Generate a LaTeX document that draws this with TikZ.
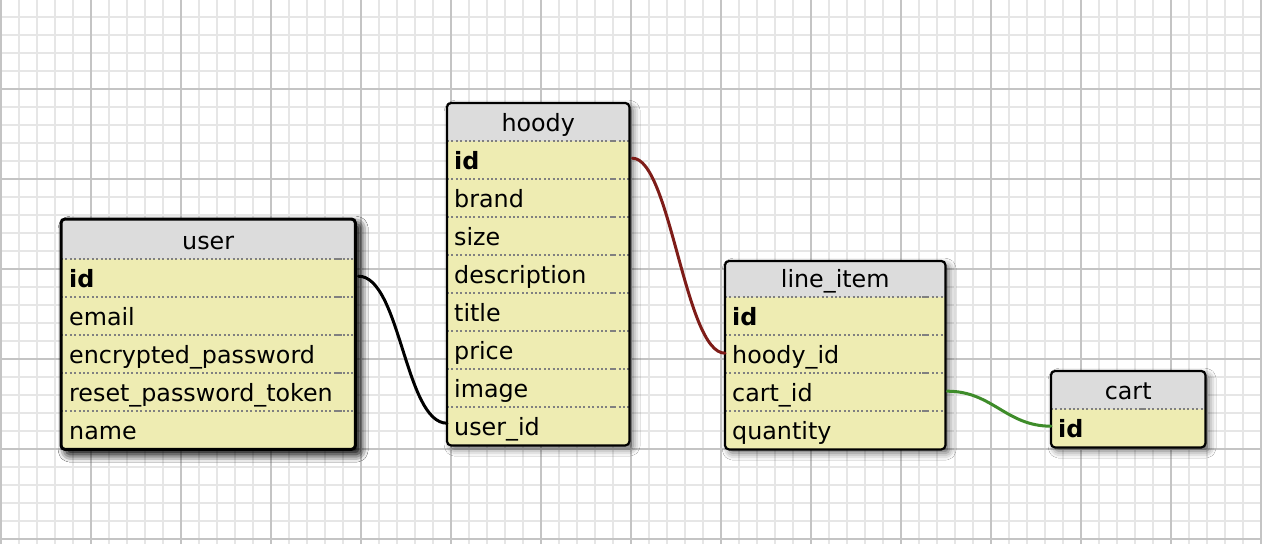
\documentclass[tikz,border=0pt]{standalone}
\usepackage{fontspec}
\setmainfont{DejaVu Sans}
\usetikzlibrary{shadows.blur}
\definecolor{gridminor}{HTML}{E6E6E6}
\definecolor{gridmajor}{HTML}{C4C4C4}
\definecolor{headgray}{HTML}{DCDCDC}
\definecolor{rowyellow}{HTML}{EEECB2}
\definecolor{sepgray}{HTML}{808080}
\definecolor{linkred}{HTML}{7E1C18}
\definecolor{linkgreen}{HTML}{3E8C2A}
\tikzset{
  tablebg/.style={anchor=north west, fill=rowyellow, inner sep=0pt, rounded corners=4pt,
    blur shadow={shadow xshift=4pt, shadow yshift=-4pt, shadow blur radius=7pt, shadow opacity=60}},
  tableborder/.style={draw=black, line width=2.2pt, rounded corners=4pt},
  cell/.style={anchor=north west, inner xsep=7pt, inner ysep=0pt, text depth=10pt,
    align=left, font=\fontsize{23.8}{26}\selectfont},
  headcell/.style={cell, align=center},
  sepline/.style={draw=sepgray, line width=2pt, dash pattern=on 2pt off 2.4pt},
  sepdash/.style={draw=sepgray, line width=2pt},
  link/.style={line width=3pt, line cap=round},
  gminor/.style={draw=gridminor, line width=2pt},
  gmajor/.style={draw=gridmajor, line width=2pt},
}
\begin{document}
\begin{tikzpicture}[x=1pt, y=-1pt]
\useasboundingbox (0,0) rectangle (1262,544);
\fill[white] (0,0) rectangle (1262,544);
\begin{scope}
\clip (0,0) rectangle (1262,544);
\foreach \i in {0,...,70} \draw[gminor] ({1+18*\i},0) -- ({1+18*\i},544);
\foreach \j in {0,...,31} \draw[gminor] (0,{-1+18*\j}) -- (1262,{-1+18*\j});
\foreach \i in {0,...,14} \draw[gmajor] ({1+90*\i},0) -- ({1+90*\i},544);
\foreach \j in {1,...,6} \draw[gmajor] (0,{-1+90*\j}) -- (1262,{-1+90*\j});
\end{scope}

% ---------- user ----------
\node[tablebg, minimum width=294pt, minimum height=230pt,
  blur shadow={shadow xshift=5pt, shadow yshift=-5pt, shadow blur radius=8pt, shadow opacity=70}] (user) at (61,219) {};
\fill[headgray] (61,259) [rounded corners=4pt] -- (61,219) -- (355,219) [sharp corners] -- (355,259) -- cycle;
\node[headcell, inner xsep=8pt, text width=278pt, text height=30pt] (user-h) at (61,219) {user};
\node[cell, inner xsep=8pt, text width=278pt, text height=28pt] (user-id) at (61,259) {\textbf{id}};
\node[cell, inner xsep=8pt, text width=278pt, text height=28pt] (user-email) at (61,297) {email};
\node[cell, inner xsep=8pt, text width=278pt, text height=28pt] (user-pw) at (61,335) {encrypted\_password};
\node[cell, inner xsep=8pt, text width=278pt, text height=28pt] (user-tok) at (61,373) {reset\_password\_token};
\node[cell, inner xsep=8pt, text width=278pt, text height=28pt] (user-name) at (61,411) {name};
\foreach \r in {user-id, user-email, user-pw, user-tok, user-name} {
  \draw[sepline] (\r.north west) -- (\r.north east);
  \draw[sepdash] ([xshift=-20pt]\r.north east) -- ([xshift=-13pt]\r.north east);
}
\draw[tableborder, line width=3pt] (user.north west) rectangle (user.south east);

% ---------- hoody ----------
\node[tablebg, minimum width=182pt, minimum height=342pt] (hoody) at (447,103) {};
\fill[headgray] (447,141) [rounded corners=4pt] -- (447,103) -- (629,103) [sharp corners] -- (629,141) -- cycle;
\node[headcell, text width=168pt, text height=28pt] (hoody-h) at (447,103) {hoody};
\node[cell, text width=168pt, text height=28pt] (hoody-id) at (447,141) {\textbf{id}};
\node[cell, text width=168pt, text height=28pt] (hoody-brand) at (447,179) {brand};
\node[cell, text width=168pt, text height=28pt] (hoody-size) at (447,217) {size};
\node[cell, text width=168pt, text height=28pt] (hoody-desc) at (447,255) {description};
\node[cell, text width=168pt, text height=28pt] (hoody-title) at (447,293) {title};
\node[cell, text width=168pt, text height=28pt] (hoody-price) at (447,331) {price};
\node[cell, text width=168pt, text height=28pt] (hoody-image) at (447,369) {image};
\node[cell, text width=168pt, text height=28pt] (hoody-userid) at (447,407) {user\_id};
\foreach \r in {hoody-id, hoody-brand, hoody-size, hoody-desc, hoody-title, hoody-price, hoody-image, hoody-userid} {
  \draw[sepline] (\r.north west) -- (\r.north east);
  \draw[sepdash] ([xshift=-19pt]\r.north east) -- ([xshift=-13pt]\r.north east);
}
\draw[tableborder] (hoody.north west) rectangle (hoody.south east);

% ---------- line_item ----------
\node[tablebg, minimum width=220pt, minimum height=188pt] (li) at (725,261) {};
\fill[headgray] (725,297) [rounded corners=4pt] -- (725,261) -- (945,261) [sharp corners] -- (945,297) -- cycle;
\node[headcell, text width=206pt, text height=26pt] (li-h) at (725,261) {line\_item};
\node[cell, text width=206pt, text height=28pt] (li-id) at (725,297) {\textbf{id}};
\node[cell, text width=206pt, text height=28pt] (li-hoodyid) at (725,335) {hoody\_id};
\node[cell, text width=206pt, text height=28pt] (li-cartid) at (725,373) {cart\_id};
\node[cell, text width=206pt, text height=28pt] (li-qty) at (725,411) {quantity};
\foreach \r in {li-id, li-hoodyid, li-cartid, li-qty} {
  \draw[sepline] (\r.north west) -- (\r.north east);
  \draw[sepdash] ([xshift=-23pt]\r.north east) -- ([xshift=-16pt]\r.north east);
}
\draw[tableborder] (li.north west) rectangle (li.south east);

% ---------- cart ----------
\node[tablebg, minimum width=154pt, minimum height=76pt] (cart) at (1051,371) {};
\fill[headgray] (1051,409) [rounded corners=4pt] -- (1051,371) -- (1205,371) [sharp corners] -- (1205,409) -- cycle;
\node[headcell, text width=140pt, text height=28pt] (cart-h) at (1051,371) {cart};
\node[cell, text width=140pt, text height=28pt] (cart-id) at (1051,409) {\textbf{id}};
\draw[sepline] (cart-id.north west) -- (cart-id.north east);
\draw[sepdash] ([xshift=-66pt]cart-id.north east) -- ([xshift=-59pt]cart-id.north east);
\draw[tableborder] (cart.north west) rectangle (cart.south east);

% ---------- connectors ----------
\draw[link, black] ([xshift=3pt, yshift=2pt]user-id.east) .. controls +(42,0) and +(-42,0) .. ([yshift=3pt]hoody-userid.west);
\draw[link, linkred] ([xshift=3pt, yshift=2pt]hoody-id.east) .. controls +(38,0) and +(-40,0) .. ([yshift=1pt]li-hoodyid.west);
\draw[link, linkgreen] ([xshift=2pt, yshift=1pt]li-cartid.east) .. controls +(45,0) and +(-45,0) .. ([yshift=2pt]cart-id.west);
\end{tikzpicture}
\end{document}
